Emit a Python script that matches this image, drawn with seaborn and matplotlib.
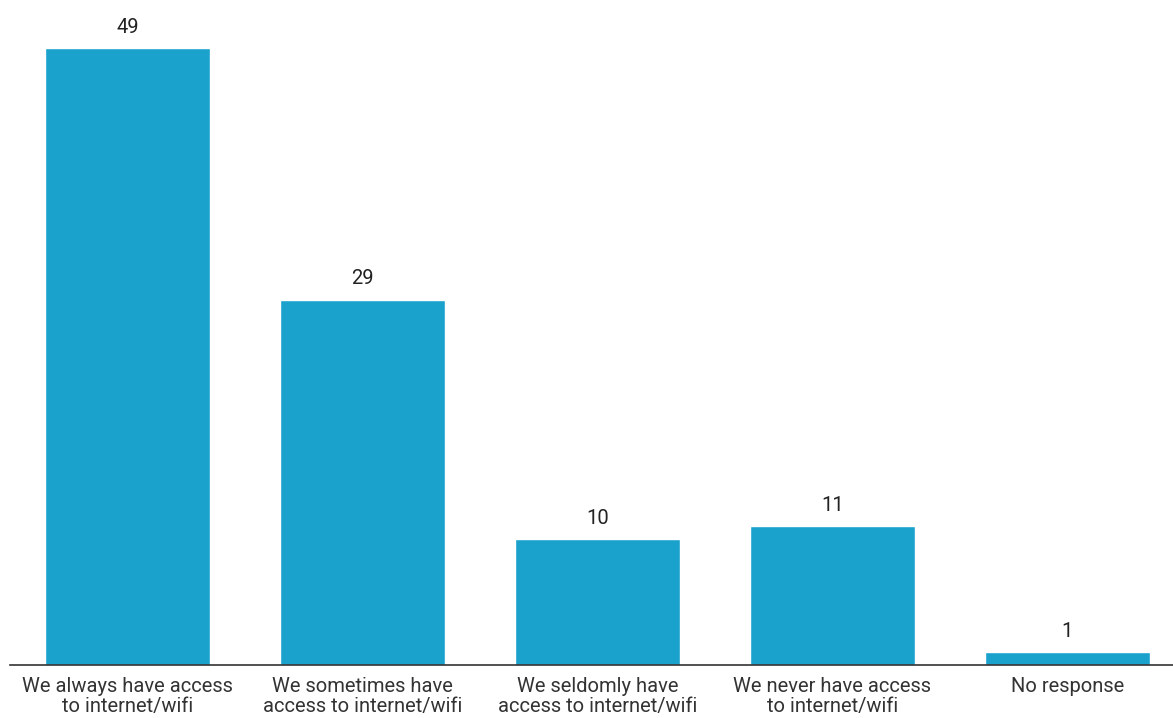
import matplotlib
matplotlib.use("Agg")
import matplotlib.pyplot as plt
import seaborn as sns
import pandas as pd

# データ
categories = [
    "We always have access\nto internet/wifi",
    "We sometimes have\naccess to internet/wifi",
    "We seldomly have\naccess to internet/wifi",
    "We never have access\nto internet/wifi",
    "No response",
]
counts = [49, 29, 10, 11, 1]

df = pd.DataFrame({"category": categories, "count": counts})

sns.set_theme(style="white")
plt.rcParams["font.family"] = ["Roboto", "DejaVu Sans"]

fig = plt.figure(figsize=(11.73, 7.18), dpi=100)
ax = fig.add_axes([10 / 1173, 1 - 665 / 718, 1163 / 1173, 665 / 718])

sns.barplot(data=df, x="category", y="count", color="#1aa2cd", saturation=1,
            width=0.7, ax=ax)

for i, v in enumerate(counts):
    ax.text(i, v + 0.9, str(v), ha="center", va="bottom", fontsize=14.5, color="#222222")

ax.set_xlim(-0.5, 4.45)
ax.set_ylim(0, 52.8)
ax.set_xlabel("")
ax.set_ylabel("")
ax.set_yticks([])
ax.tick_params(axis="x", length=0, pad=9, labelsize=14.5, labelcolor="#333333")
for lbl in ax.get_xticklabels():
    lbl.set_linespacing(1.05)
for side in ["top", "right", "left"]:
    ax.spines[side].set_visible(False)
ax.spines["bottom"].set_color("#333333")
ax.spines["bottom"].set_linewidth(1.2)

fig.savefig("out.png", dpi=100)
